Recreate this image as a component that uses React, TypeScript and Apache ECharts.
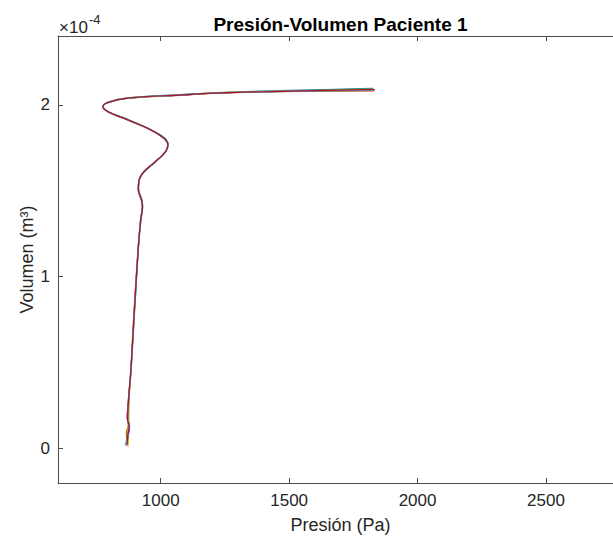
import React, { useEffect, useRef } from "react";
import * as echarts from "echarts";

// Pressure (Pa) tick values and volume tick values (units of 1e-4 m^3)
const pressureTicks = [1000, 1500, 2000, 2500];
const volumeTicks = [0, 1, 2];
const cycleNames = ["Ciclo 1", "Ciclo 2", "Ciclo 3", "Ciclo 4", "Ciclo 5", "Ciclo 6", "Ciclo 7"];
const cycleColors = ["#0072BD", "#D95319", "#EDB120", "#7E2F8E", "#77AC30", "#4DBEEE", "#A2142F"];

// [pressure (Pa), volume (x1e-4 m^3)]
const cycle1: [number, number][] = [
  [864, 0.02], [870, 0.08], [879, 0.13], [873, 0.17], [876, 0.29], [885, 0.46], [894, 0.69], [904, 0.94],
  [914, 1.18], [923, 1.33], [930, 1.41], [926, 1.45], [914, 1.51], [917, 1.565], [936, 1.61], [981, 1.67],
  [1020, 1.73], [1029, 1.77], [1013, 1.81], [962, 1.855], [872, 1.915], [795, 1.96], [776, 1.99], [795, 2.015],
  [872, 2.04], [1090, 2.06], [1200, 2.07], [1460, 2.082], [1825, 2.095],
];
const cycle2: [number, number][] = [
  [870, 0.03], [866, 0.09], [874, 0.14], [869, 0.18], [874, 0.28], [883, 0.45], [892, 0.7], [902, 0.95],
  [912, 1.17], [921, 1.33], [928, 1.405], [924, 1.445], [912, 1.505], [915, 1.56], [934, 1.61], [979, 1.668],
  [1018, 1.726], [1027, 1.766], [1011, 1.805], [960, 1.853], [870, 1.911], [793, 1.959], [774, 1.988], [793, 2.011],
  [870, 2.037], [1088, 2.056], [1196, 2.066], [1453, 2.076], [1832, 2.08],
];
const cycle3: [number, number][] = [
  [872, 0.01], [875, 0.06], [872, 0.12], [876, 0.16], [877, 0.29], [885, 0.46], [894, 0.69], [903, 0.94],
  [913, 1.18], [922, 1.335], [929, 1.41], [925, 1.45], [913, 1.507], [916, 1.565], [935, 1.613], [980, 1.671],
  [1019, 1.729], [1028, 1.768], [1012, 1.807], [961, 1.856], [871, 1.914], [794, 1.962], [775, 1.991], [794, 2.014],
  [871, 2.04], [1089, 2.059], [1198, 2.069], [1456, 2.079], [1828, 2.086],
];
const cycle4: [number, number][] = [
  [866, 0.025], [873, 0.07], [878, 0.125], [870, 0.175], [874, 0.285], [884, 0.46], [893, 0.69], [903, 0.945],
  [913, 1.175], [922, 1.33], [929, 1.408], [925, 1.447], [913, 1.505], [916, 1.563], [935, 1.611], [980, 1.669],
  [1019, 1.727], [1028, 1.766], [1012, 1.805], [961, 1.854], [871, 1.912], [794, 1.96], [775, 1.989], [794, 2.012],
  [871, 2.038], [1089, 2.057], [1197, 2.067], [1455, 2.077], [1830, 2.09],
];
const cycle5: [number, number][] = [
  [868, 0.035], [869, 0.075], [876, 0.135], [874, 0.165], [875, 0.28], [884, 0.455], [893, 0.695], [903, 0.94],
  [913, 1.18], [922, 1.332], [929, 1.41], [925, 1.449], [913, 1.507], [916, 1.566], [935, 1.612], [980, 1.67],
  [1019, 1.728], [1028, 1.767], [1012, 1.806], [961, 1.855], [871, 1.913], [794, 1.961], [775, 1.99], [794, 2.013],
  [871, 2.039], [1089, 2.058], [1197, 2.068], [1455, 2.078], [1822, 2.092],
];
const cycle6: [number, number][] = [
  [862, 0.015], [872, 0.065], [875, 0.128], [872, 0.17], [876, 0.29], [884, 0.458], [893, 0.692], [903, 0.944],
  [913, 1.176], [922, 1.331], [929, 1.409], [925, 1.448], [913, 1.506], [916, 1.564], [935, 1.612], [980, 1.67],
  [1019, 1.728], [1028, 1.767], [1012, 1.806], [961, 1.855], [871, 1.913], [794, 1.961], [775, 1.99], [794, 2.013],
  [871, 2.039], [1089, 2.058], [1197, 2.068], [1455, 2.078], [1827, 2.083],
];
const cycle7: [number, number][] = [
  [869, 0.02], [871, 0.07], [877, 0.13], [871, 0.17], [875, 0.285], [884, 0.459], [893, 0.692], [903, 0.944],
  [913, 1.176], [922, 1.331], [929, 1.409], [925, 1.448], [913, 1.506], [916, 1.564], [935, 1.612], [980, 1.67],
  [1019, 1.728], [1028, 1.767], [1012, 1.806], [961, 1.855], [871, 1.913], [794, 1.961], [775, 1.99], [794, 2.013],
  [871, 2.039], [1089, 2.058], [1197, 2.068], [1455, 2.078], [1834, 2.088],
];
const cycles = [cycle1, cycle2, cycle3, cycle4, cycle5, cycle6, cycle7];

const FONT = "'Liberation Sans', Arial, Helvetica, sans-serif";
const AXIS_COLOR = "#4d4d4d";
const TEXT_COLOR = "#262626";

export default function App() {
  const ref = useRef<HTMLDivElement>(null);
  useEffect(() => {
    if (!ref.current) return;
    const chart = echarts.init(ref.current, null, { renderer: "svg" });
    const gridLeft = 58;
    const gridWidth = 565;
    const axisLine = { show: true, onZero: false, lineStyle: { color: AXIS_COLOR, width: 1 } };
    const tickFmt = (v: number) => String(v);
    chart.setOption({
      animation: false,
      backgroundColor: "#ffffff",
      grid: { left: gridLeft, top: 36, width: gridWidth, height: 447, containLabel: false },
      graphic: [
        {
          type: "text",
          x: gridLeft + gridWidth / 2,
          y: 24,
          style: {
            text: "Presión-Volumen Paciente 1",
            font: `bold 19px ${FONT}`,
            fill: "#000",
            align: "center",
            verticalAlign: "middle",
          },
        },
        {
          type: "text",
          x: 59,
          y: 27,
          style: { text: "×10", font: `17px ${FONT}`, fill: TEXT_COLOR, align: "left", verticalAlign: "middle" },
        },
        {
          type: "text",
          x: 89,
          y: 19,
          style: { text: "-4", font: `13px ${FONT}`, fill: TEXT_COLOR, align: "left", verticalAlign: "middle" },
        },
      ],
      xAxis: [
        {
          type: "value",
          position: "bottom",
          min: 600,
          max: 2800,
          name: "Presión (Pa)",
          nameLocation: "middle",
          nameGap: 33,
          nameMoveOverlap: false,
          nameTextStyle: { fontFamily: FONT, fontSize: 18, color: TEXT_COLOR },
          axisLine,
          splitLine: { show: false },
          axisTick: { show: true, inside: true, length: 5, customValues: pressureTicks, lineStyle: { color: AXIS_COLOR } },
          axisLabel: { show: true, customValues: pressureTicks, formatter: tickFmt, fontFamily: FONT, fontSize: 17, color: TEXT_COLOR, margin: 9 },
        },
        {
          type: "value",
          position: "top",
          min: 600,
          max: 2800,
          axisLine,
          splitLine: { show: false },
          axisTick: { show: true, inside: true, length: 5, customValues: pressureTicks, lineStyle: { color: AXIS_COLOR } },
          axisLabel: { show: false },
        },
      ],
      yAxis: [
        {
          type: "value",
          position: "left",
          min: -0.2,
          max: 2.4,
          name: "Volumen (m³)",
          nameLocation: "middle",
          nameGap: 22,
          nameMoveOverlap: false,
          nameTextStyle: { fontFamily: FONT, fontSize: 18, color: TEXT_COLOR },
          axisLine,
          splitLine: { show: false },
          axisTick: { show: true, inside: true, length: 5, customValues: volumeTicks, lineStyle: { color: AXIS_COLOR } },
          axisLabel: { show: true, customValues: volumeTicks, formatter: tickFmt, fontFamily: FONT, fontSize: 17, color: TEXT_COLOR, margin: 8 },
        },
        {
          type: "value",
          position: "right",
          min: -0.2,
          max: 2.4,
          axisLine,
          splitLine: { show: false },
          axisTick: { show: true, inside: true, length: 5, customValues: volumeTicks, lineStyle: { color: AXIS_COLOR } },
          axisLabel: { show: false },
        },
      ],
      series: cycles.map((data, i) => ({
        name: cycleNames[i],
        type: "line",
        xAxisIndex: 0,
        yAxisIndex: 0,
        data,
        showSymbol: false,
        symbol: "none",
        smooth: 0.35,
        lineStyle: { color: cycleColors[i], width: 1.2 },
        itemStyle: { color: cycleColors[i] },
      })),
    });
    return () => chart.dispose();
  }, []);
  return (
    <div
      style={{
        position: "fixed",
        left: 0,
        top: 0,
        width: 613,
        height: 539,
        overflow: "hidden",
        background: "#ffffff",
      }}
    >
      <div ref={ref} style={{ width: 700, height: 539 }} />
    </div>
  );
}
